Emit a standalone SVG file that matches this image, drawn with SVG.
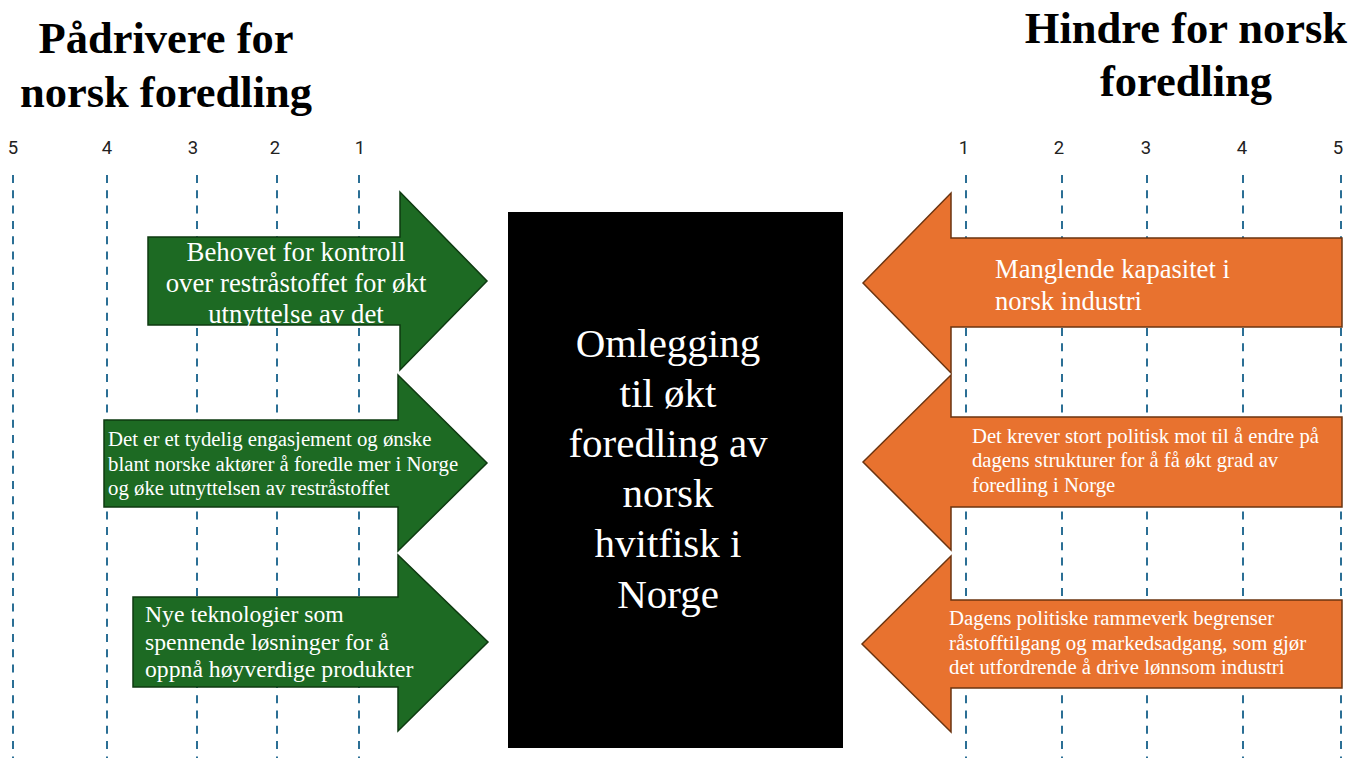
<svg xmlns="http://www.w3.org/2000/svg" width="1355" height="758" viewBox="0 0 1355 758">
<style>
.title{font-family:"Liberation Serif","Times New Roman",serif;font-weight:bold;font-size:44.5px;fill:#000;text-anchor:middle}
.tick{font-family:Roboto,"Liberation Sans",sans-serif;font-size:18.5px;fill:#222;text-anchor:middle}
.grid{stroke:#2b6f95;stroke-width:2;stroke-dasharray:8 7.3;fill:none}
.green{fill:#1d6a23;stroke:#0e3a11;stroke-width:1.5}
.orange{fill:#e8722f;stroke:#6b3410;stroke-width:1.5}
.t{font-family:"Liberation Serif","Times New Roman",serif;fill:#fff}
.center{font-family:"Liberation Serif","Times New Roman",serif;font-size:41px;fill:#fff;text-anchor:middle}
</style>
<rect width="1355" height="758" fill="#fff"/>
<g id="titles">
<text class="title" x="166" y="53">Pådrivere for</text>
<text class="title" x="166" y="107">norsk foredling</text>
<text class="title" x="1186" y="43">Hindre for norsk</text>
<text class="title" x="1186" y="96">foredling</text>
</g>
<g id="scale-left">
<text class="tick" x="13" y="154">5</text>
<text class="tick" x="107" y="154">4</text>
<text class="tick" x="193" y="154">3</text>
<text class="tick" x="275" y="154">2</text>
<text class="tick" x="360" y="154">1</text>
<line class="grid" x1="13" y1="175" x2="13" y2="758"/>
<line class="grid" x1="107" y1="175" x2="107" y2="758"/>
<line class="grid" x1="197" y1="175" x2="197" y2="758"/>
<line class="grid" x1="277" y1="175" x2="277" y2="758"/>
<line class="grid" x1="359" y1="175" x2="359" y2="758"/>
</g>
<g id="scale-right">
<text class="tick" x="964" y="154">1</text>
<text class="tick" x="1059" y="154">2</text>
<text class="tick" x="1146" y="154">3</text>
<text class="tick" x="1242" y="154">4</text>
<text class="tick" x="1338" y="154">5</text>
<line class="grid" x1="966" y1="175" x2="966" y2="758"/>
<line class="grid" x1="1062" y1="175" x2="1062" y2="758"/>
<line class="grid" x1="1147" y1="175" x2="1147" y2="758"/>
<line class="grid" x1="1243" y1="175" x2="1243" y2="758"/>
<line class="grid" x1="1341" y1="175" x2="1341" y2="758"/>
</g>
<g id="center">
<rect x="508" y="212" width="335" height="536" fill="#000"/>
<text class="center" x="668" y="357">Omlegging</text>
<text class="center" x="668" y="407">til økt</text>
<text class="center" x="668" y="457">foredling av</text>
<text class="center" x="668" y="507">norsk</text>
<text class="center" x="668" y="557">hvitfisk i</text>
<text class="center" x="668" y="608">Norge</text>
</g>
<g id="driver1">
<polygon class="green" points="148,237 400,237 400,192 487,281 400,370 400,325 148,325"/>
<text class="t" font-size="26.8" text-anchor="middle" x="296" y="261">Behovet for kontroll</text>
<text class="t" font-size="26.8" text-anchor="middle" x="296" y="292">over restråstoffet for økt</text>
<text class="t" font-size="26.8" text-anchor="middle" x="296" y="323">utnyttelse av det</text>
</g>
<g id="driver2">
<polygon class="green" points="104,420 398,420 398,375 487,463 398,551 398,507 104,507"/>
<text class="t" font-size="20.8" x="108" y="446">Det er et tydelig engasjement og ønske</text>
<text class="t" font-size="20.8" x="108" y="471">blant norske aktører å foredle mer i Norge</text>
<text class="t" font-size="20.8" x="108" y="495">og øke utnyttelsen av restråstoffet</text>
</g>
<g id="driver3">
<polygon class="green" points="133,597 398,597 398,555 488,642 398,731 398,687 133,687"/>
<text class="t" font-size="23.7" x="145" y="622">Nye teknologier som</text>
<text class="t" font-size="23.7" x="145" y="650">spennende løsninger for å</text>
<text class="t" font-size="23.7" x="145" y="677">oppnå høyverdige produkter</text>
</g>
<g id="barrier1">
<polygon class="orange" points="863,283 951,193 951,238 1342,238 1342,327 951,327 951,373"/>
<text class="t" font-size="26.6" x="995" y="278">Manglende kapasitet i</text>
<text class="t" font-size="26.6" x="995" y="310">norsk industri</text>
</g>
<g id="barrier2">
<polygon class="orange" points="863,462 951,375 951,417 1342,417 1342,507 951,507 951,550"/>
<text class="t" font-size="20.7" x="972" y="443">Det krever stort politisk mot til å endre på</text>
<text class="t" font-size="20.7" x="972" y="467">dagens strukturer for å få økt grad av</text>
<text class="t" font-size="20.7" x="972" y="492">foredling i Norge</text>
</g>
<g id="barrier3">
<polygon class="orange" points="862,644 951,556 951,600 1342,600 1342,688 951,688 951,732"/>
<text class="t" font-size="20.8" x="949" y="625">Dagens politiske rammeverk begrenser</text>
<text class="t" font-size="20.8" x="949" y="650">råstofftilgang og markedsadgang, som gjør</text>
<text class="t" font-size="20.8" x="949" y="674">det utfordrende å drive lønnsom industri</text>
</g>
</svg>
